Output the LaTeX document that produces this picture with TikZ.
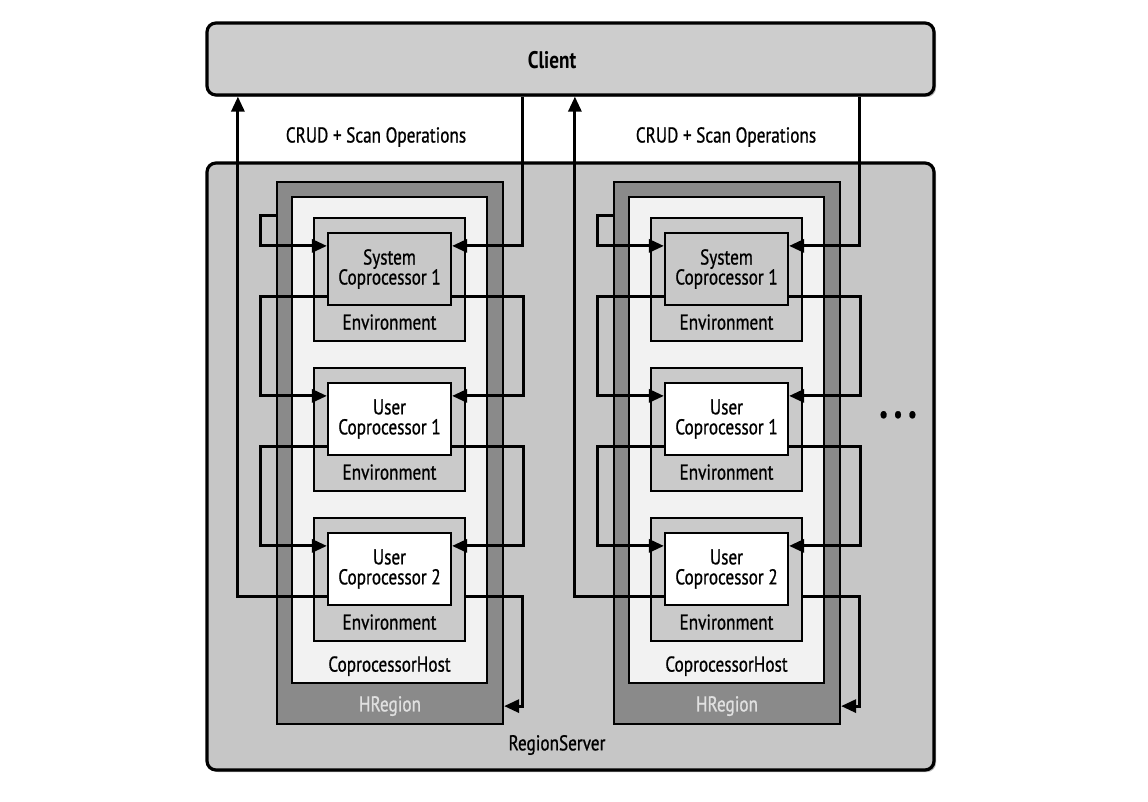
\documentclass[tikz,border=0pt]{standalone}
\usepackage{fontspec}
\setmainfont{PT Sans}[FakeStretch=0.8,FakeBold=0.8]
\newfontfamily\boldface{PT Sans}[FakeStretch=0.8,UprightFont=* Bold]
\usetikzlibrary{arrows.meta,shadows}
\definecolor{rsgray}{HTML}{C6C6C6}
\definecolor{clgray}{HTML}{CDCDCD}
\definecolor{hrgray}{HTML}{8A8A8A}
\definecolor{chgray}{HTML}{F2F2F2}
\definecolor{envgray}{HTML}{CACACA}
\definecolor{sysgray}{HTML}{C8C8C8}
\begin{document}
\begin{tikzpicture}[x=1pt, y=-1pt,
  every node/.style={font=\fontsize{21.5}{22}\selectfont, inner sep=0pt},
  box/.style={draw, line width=2.2pt, rectangle},
  outer/.style={box, line width=3.2pt, rounded corners=9pt,
    drop shadow={shadow xshift=2pt, shadow yshift=-2pt, fill=gray!70, opacity=0.8}},
  conn/.style={line width=3pt},
  arr/.style={conn, -{Triangle[length=15pt,width=13pt]}}]
\useasboundingbox[fill=white] (0,0) rectangle (1148,802);

\node[outer, fill=clgray, minimum width=727pt, minimum height=72pt] (client) at (570.5,59) {};
\node[font=\boldface\fontsize{24}{24}\selectfont] at (552,60) {Client};
\node[outer, fill=rsgray, minimum width=727pt, minimum height=607pt] (rs) at (570.5,466.5) {};
\node at (557,745) {RegionServer};

\node (crudA) at (376,137) {CRUD + Scan Operations};
\node (crudB) at (726,137) {CRUD + Scan Operations};
\node[font=\fontsize{26}{26}\selectfont] (dots) at (898,417) {•\hspace{5pt}•\hspace{5pt}•};

\foreach \g/\dx in {A/0, B/337} {
  \node[box, fill=hrgray, minimum width=226pt, minimum height=542pt] (hr\g) at (390+\dx,453) {};
  \node[text=white!88!black] at ([yshift=19pt]hr\g.south) {HRegion};
  \node[box, fill=chgray, minimum width=195pt, minimum height=486pt] (ch\g) at (389.5+\dx,440) {};
  \node at ([yshift=18pt]ch\g.south) {CoprocessorHost};

  \node[box, fill=envgray, minimum width=151pt, minimum height=123pt] (env1\g) at (389.5+\dx,279.5) {};
  \node[box, fill=envgray, minimum width=151pt, minimum height=123pt] (env2\g) at (389.5+\dx,429.5) {};
  \node[box, fill=envgray, minimum width=151pt, minimum height=123pt] (env3\g) at (389.5+\dx,579.5) {};
  \node at ([yshift=20pt]env1\g.south) {Environment};
  \node at ([yshift=20pt]env2\g.south) {Environment};
  \node at ([yshift=20pt]env3\g.south) {Environment};

  \node[box, fill=sysgray, minimum width=123pt, minimum height=72pt, align=center] (cp1\g) at (389.5+\dx,269) {System\\[-2pt]Coprocessor 1};
  \node[box, fill=white, minimum width=123pt, minimum height=72pt, align=center] (cp2\g) at (389.5+\dx,419) {User\\[-2pt]Coprocessor 1};
  \node[box, fill=white, minimum width=123pt, minimum height=72pt, align=center] (cp3\g) at (389.5+\dx,569) {User\\[-2pt]Coprocessor 2};

  % left side, top to bottom
  \draw[arr] ([yshift=-35pt]hr\g.north west) -- ++(-15,0) |- ([yshift=-14pt]cp1\g.north west);
  \draw[arr] ([yshift=10pt]cp1\g.south west) -- ++(-66,0) |- ([yshift=-14pt]cp2\g.north west);
  \draw[arr] ([yshift=10pt]cp2\g.south west) -- ++(-66,0) |- ([yshift=-14pt]cp3\g.north west);
  \draw[arr] ([yshift=10pt]cp3\g.south west) -- ++(-89,0) coordinate (up\g) -- (up\g |- client.south);

  % right side, top to bottom
  \draw[arr] ([xshift=70pt]cp1\g.east |- client.south) |- ([yshift=-14pt]cp1\g.north east);
  \draw[arr] ([yshift=10pt]cp1\g.south east) -- ++(71,0) |- ([yshift=-14pt]cp2\g.north east);
  \draw[arr] ([yshift=10pt]cp2\g.south east) -- ++(71,0) |- ([yshift=-14pt]cp3\g.north east);
  \draw[arr] ([yshift=10pt]cp3\g.south east -| env3\g.east) -- ++(56,0) |- ([yshift=19pt]hr\g.south east);
}
\end{tikzpicture}
\end{document}
